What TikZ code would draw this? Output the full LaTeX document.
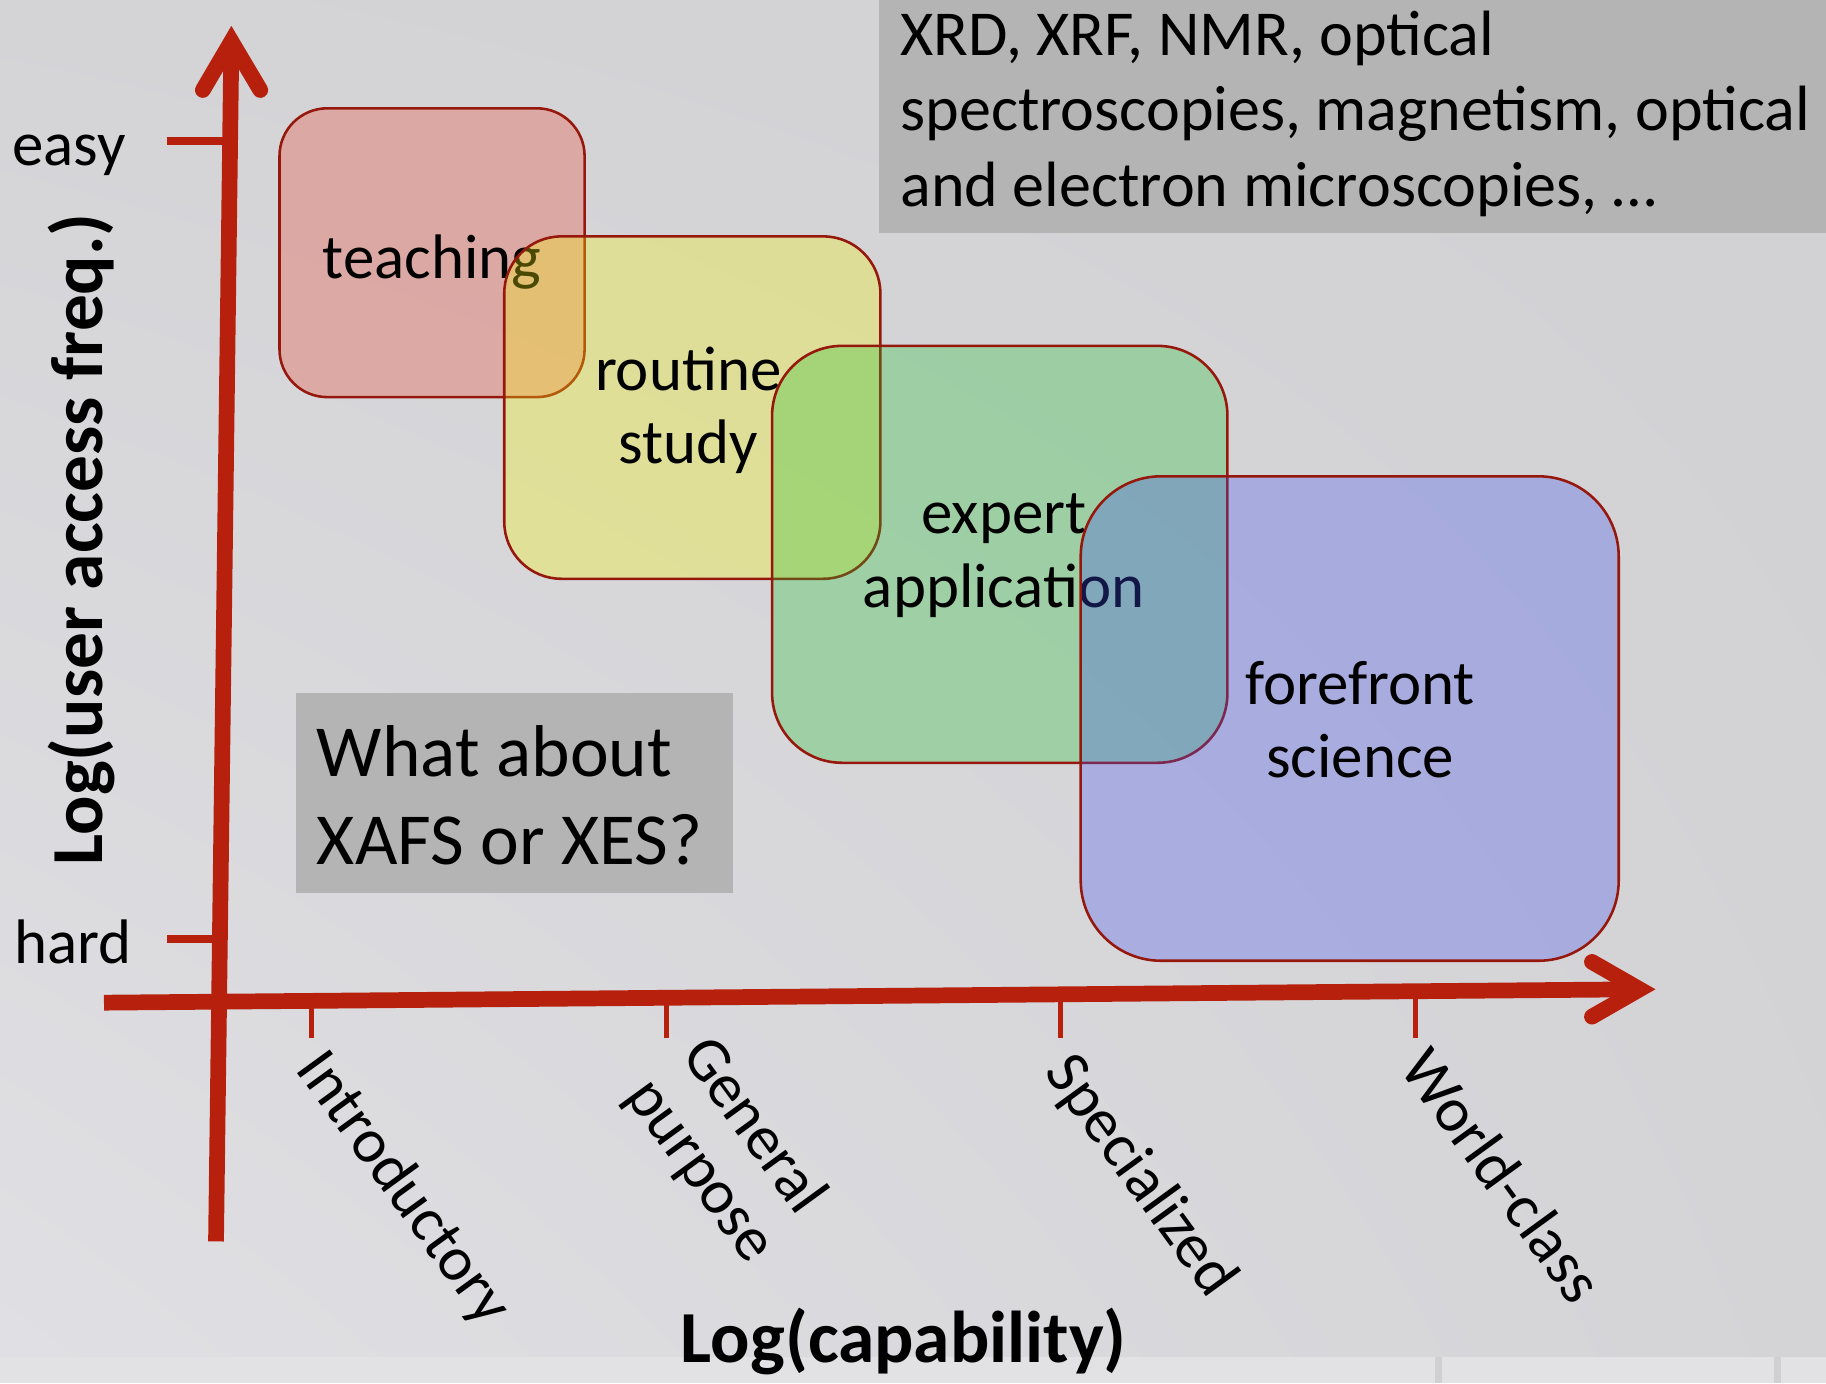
\documentclass[tikz,border=0pt]{standalone}
\usepackage{fontspec}
\setmainfont{Carlito}
\usetikzlibrary{shadings}
\definecolor{axred}{RGB}{182,32,12}
\definecolor{boxline}{RGB}{150,24,12}
\definecolor{cred}{RGB}{239,67,45}
\definecolor{cyel}{RGB}{245,245,5}
\definecolor{cgrn}{RGB}{32,192,45}
\definecolor{cblu}{RGB}{65,79,238}
\definecolor{gbox}{RGB}{180,180,180}
\definecolor{bgul}{RGB}{212,212,215}
\definecolor{bgur}{RGB}{209,209,212}
\definecolor{bgll}{RGB}{224,224,228}
\definecolor{bglr}{RGB}{212,212,215}
\definecolor{strip}{RGB}{226,226,229}
\definecolor{sep}{RGB}{208,208,211}
\begin{document}
\begin{tikzpicture}[x=1pt,y=-1pt,
  zone/.style={draw=boxline, line width=2.2pt, rounded corners=#1, fill opacity=0.3, inner sep=0pt},
  zlabel/.style={font=\fontsize{54}{60}\selectfont, inner sep=0pt, anchor=base},
  glabel/.style={font=\fontsize{#1}{#1}\selectfont, inner sep=0pt, anchor=base west},
  ticklab/.style={font=\fontsize{54}{60}\selectfont, inner sep=0pt, anchor=base west, rotate=-54},
  axis/.style={draw=axred, line width=13.5pt},
  tip/.style={draw=axred, line width=13.5pt, line cap=round, line join=miter},
  ytick/.style={draw=axred, line width=7pt},
  xtick/.style={draw=axred, line width=4.6pt},
  graybox/.style={fill=gbox, inner sep=0pt},
  title/.style={font=\fontsize{63}{63}\selectfont\bfseries, inner sep=0pt, anchor=base}
]
\useasboundingbox (0,0) rectangle (1568,1188);
% background
\shade[upper left=bgul, upper right=bgur, lower left=bgll, lower right=bglr] (0,0) rectangle (1568,1165);
\fill[strip] (0,1165) rectangle (1568,1188);
\fill[sep] (1232,1165) rectangle (1238,1188);
\fill[sep] (1523,1165) rectangle (1529,1188);

% gray text boxes
\node[graybox, minimum width=813pt, minimum height=200pt] (techbox) at (1161.5,100) {};
\node[glabel=55] (t1) at (773,48) {XRD, XRF, NMR, optical};
\node[glabel=55] (t2) at (773,112) {spectroscopies, magnetism, optical};
\node[glabel=55] (t3) at (773,177) {and electron microscopies, \dots};

\node[graybox, minimum width=375pt, minimum height=172pt] (qbox) at (441.5,681) {};
\node[glabel=63] (q1) at (272,667) {What about};
\node[glabel=63] (q2) at (272,742) {XAFS or XES?};

% axes
\coordinate (yb) at (185.5,1066);
\coordinate (yv) at (198.7,35.5);
\coordinate (yl) at (174.2,77.3);
\coordinate (yr) at (223.5,77.3);
\coordinate (xl) at (89.3,861);
\coordinate (xv) at (1408,849.5);
\coordinate (xu) at (1367,826);
\coordinate (xd) at (1367,873);
\draw[axis] (yb) -- (yv);
\draw[tip] (yl) -- (yv) -- (yr);
\draw[axis] (xl) -- (xv);
\draw[tip] (xu) -- (xv) -- (xd);

% y ticks
\coordinate (easyA) at (143.6,121);
\coordinate (easyB) at (193,121);
\coordinate (hardA) at (143.8,806);
\coordinate (hardB) at (186,806);
\draw[ytick] (easyA) -- (easyB);
\draw[ytick] (hardA) -- (hardB);
\node[glabel=54] (easy) at (10.5,142) {easy};
\node[glabel=54] (hard) at (12.4,827) {hard};

% x ticks
\coordinate (i1) at (267.6,859); \coordinate (i2) at (267.6,891);
\coordinate (g1) at (572.5,857); \coordinate (g2) at (572.5,891);
\coordinate (s1) at (910.8,854); \coordinate (s2) at (910.8,891);
\coordinate (w1) at (1215.6,851); \coordinate (w2) at (1215.6,891);
\draw[xtick] (i1) -- (i2);
\draw[xtick] (g1) -- (g2);
\draw[xtick] (s1) -- (s2);
\draw[xtick] (w1) -- (w2);
\node[ticklab] (intro) at (253,918) {Introductory};
\node[ticklab] (gen) at (584,906) {General};
\node[ticklab] (purp) at (536,941) {purpose};
\node[ticklab] (spec) at (896,921) {Specialized};
\node[ticklab] (world) at (1201,917) {World-class};

% axis titles
\node[title, rotate=90] (ytitle) at (88,463) {Log(user access freq.)};
\node[title] (xtitle) at (776,1170) {Log(capability)};

% zones
\node[zone=41pt, fill=cred, minimum width=262pt, minimum height=248pt] (teach) at (371,217) {};
\node[zlabel] (teachT) at (371,239) {teaching};

\node[zone=49pt, fill=cyel, minimum width=323pt, minimum height=294pt] (routine) at (594.5,350) {};
\node[zlabel] (routT1) at (591,335) {routine};
\node[zlabel] (routT2) at (591,398) {study};

\node[zone=60pt, fill=cgrn, minimum width=391pt, minimum height=358pt] (expert) at (858.5,476) {};
\node[zlabel] (expT1) at (862,458) {expert};
\node[zlabel] (expT2) at (862,522) {application};

\node[zone=69pt, fill=cblu, minimum width=462pt, minimum height=416pt] (front) at (1159,617) {};
\node[zlabel] (frT1) at (1168,605) {forefront};
\node[zlabel] (frT2) at (1168,668) {science};
\end{tikzpicture}
\end{document}
